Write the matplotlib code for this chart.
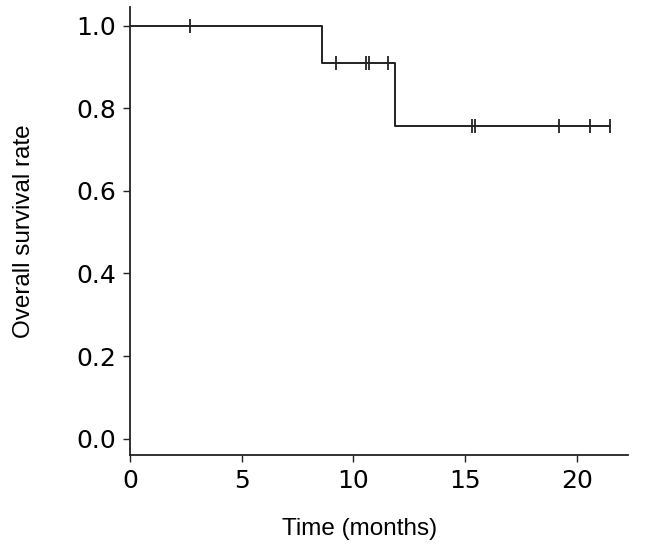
import numpy as np
import matplotlib
matplotlib.use("Agg")
from matplotlib import pyplot as plt

# follow-up data (months); event=1 death, 0 censored
times = [2.7, 8.6, 9.2, 10.55, 10.7, 11.55, 11.86, 15.3, 15.45, 19.2, 20.6, 21.5]
events = [0, 1, 0, 0, 0, 0, 1, 0, 0, 0, 0, 0]
x_ticks = [0, 5, 10, 15, 20]
y_ticks = [0.0, 0.2, 0.4, 0.6, 0.8, 1.0]


def kaplan_meier(t, e):
    t = np.asarray(t, float)
    e = np.asarray(e, int)
    order = np.argsort(t)
    t, e = t[order], e[order]
    s = 1.0
    xs, ys = [0.0], [1.0]
    cx, cy = [], []
    n = len(t)
    for i in range(n):
        at_risk = n - i
        if e[i] == 1:
            s = s * (at_risk - 1) / at_risk
        else:
            cx.append(t[i])
            cy.append(s)
        xs.append(t[i])
        ys.append(s)
    return np.array(xs), np.array(ys), np.array(cx), np.array(cy)


xs, ys, cx, cy = kaplan_meier(times, events)

fig = plt.figure(figsize=(6.57, 5.53), dpi=100)
ax = fig.add_axes([0.198, 0.177, 0.758, 0.81])

ax.step(xs, ys, where="post", color="#222222", lw=1.4)
ax.plot(cx, cy, linestyle="none", marker="|", markersize=10, mew=1.3, color="#222222")

ax.set_xlim(0, 22.3)
ax.set_ylim(-0.04, 1.045)
ax.set_xticks(x_ticks)
ax.set_yticks(y_ticks)
ax.set_yticklabels(["%.1f" % v for v in y_ticks])

for s in ["top", "right"]:
    ax.spines[s].set_visible(False)
for s in ["left", "bottom"]:
    ax.spines[s].set_linewidth(1.3)
    ax.spines[s].set_color("#222222")

ax.tick_params(direction="out", length=5, width=1.0, colors="#222222",
               labelsize=18, labelcolor="black", pad=5)
for lab in ax.get_xticklabels() + ax.get_yticklabels():
    lab.set_family("DejaVu Sans")

ax.set_xlabel("Time (months)", fontsize=17.5, family="Liberation Sans", labelpad=18, x=0.46)
ax.set_ylabel("Overall survival rate", fontsize=17.5, family="Liberation Sans", labelpad=30)

fig.savefig("out.png", dpi=100)
